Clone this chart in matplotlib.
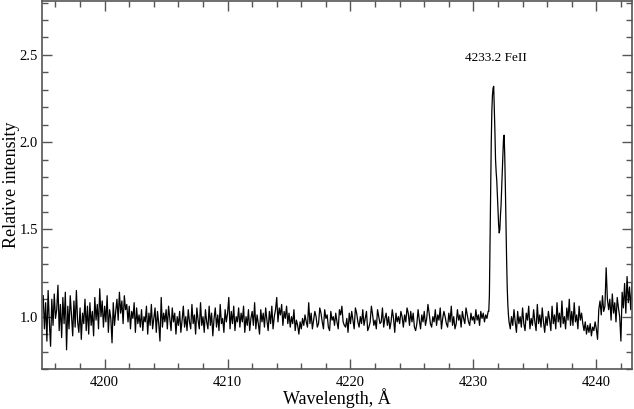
import matplotlib
matplotlib.use("Agg")
import matplotlib.pyplot as plt
from matplotlib.ticker import MultipleLocator
import numpy as np

# continuum blue of the line, 4195.0 .. 4231.2 A, step 0.1 A
flux_blue = [
    1.12, 0.93, 1.08, 0.86, 1.15, 0.97, 0.83, 1.10, 0.95, 1.13,  # 4195
    0.99, 1.04, 1.18, 0.92, 1.07, 0.88, 1.11, 0.96, 1.14, 0.81,  # 4196
    1.06, 0.93, 1.12, 1.01, 0.89, 1.09, 0.94, 1.15, 0.97, 0.91,  # 4197
    1.05, 0.87, 1.02, 0.96, 1.10, 0.92, 1.06, 0.90, 1.08, 0.95,  # 4198
    1.03, 0.89, 1.11, 0.98, 1.07, 0.93, 1.16, 1.00, 1.09, 0.94,  # 4199
    1.06, 0.97, 1.12, 0.91, 1.04, 0.99, 0.85, 1.08, 0.95, 1.03,  # 4200
    1.10, 0.98, 1.14, 1.02, 1.09, 0.96, 1.12, 1.04, 1.07, 0.97,  # 4201
    1.06, 0.93, 1.03, 0.99, 1.08, 0.91, 1.05, 0.96, 1.01, 0.94,  # 4202
    1.04, 0.92, 1.00, 0.97, 1.06, 0.90, 1.02, 0.95, 1.07, 0.93,  # 4203
    0.99, 1.05, 0.91, 1.03, 0.96, 0.86, 1.11, 0.94, 1.02, 0.97,  # 4204
    1.04, 0.93, 1.06, 0.99, 0.92, 1.05, 0.97, 1.02, 0.90, 1.00,  # 4205
    0.95, 1.03, 0.91, 0.98, 1.06, 0.94, 1.00, 0.92, 1.04, 0.97,  # 4206
    0.93, 1.07, 0.96, 1.01, 0.90, 1.05, 0.98, 0.93, 1.08, 0.95,  # 4207
    1.00, 0.91, 1.04, 0.97, 0.93, 1.06, 0.95, 1.02, 0.89, 0.99,  # 4208
    1.05, 0.94, 1.01, 0.92, 1.07, 0.96, 0.99, 0.91, 1.04, 0.97,  # 4209
    1.02, 1.11, 0.93, 1.03, 0.96, 1.06, 0.92, 1.00, 0.97, 1.05,  # 4210
    0.94, 1.02, 0.97, 1.06, 0.91, 1.00, 0.95, 1.04, 0.92, 0.99,  # 4211
    1.03, 0.95, 1.08, 0.93, 1.01, 0.96, 0.90, 1.04, 0.97, 1.02,  # 4212
    0.94, 1.05, 0.98, 0.92, 1.03, 0.96, 1.06, 0.93, 1.00, 1.04,  # 4213
    1.11, 0.97, 1.05, 1.01, 1.07, 0.95, 1.03, 0.99, 1.06, 0.96,  # 4214
    1.02, 0.94, 1.00, 0.96, 1.04, 0.92, 0.98, 0.95, 0.90, 0.97,  # 4215
    0.93, 0.99, 0.95, 1.01, 0.97, 0.94, 1.08, 0.96, 1.02, 0.93,  # 4216
    0.98, 1.03, 1.00, 0.94, 0.96, 1.05, 1.02, 0.97, 0.93, 1.04,  # 4217
    0.99, 1.01, 0.94, 0.92, 1.03, 0.98, 1.00, 0.95, 1.02, 0.97,  # 4218
    0.93, 1.04, 1.01, 1.06, 0.97, 0.95, 0.94, 0.99, 0.91, 1.02,  # 4219
    0.96, 1.03, 0.98, 0.93, 1.05, 1.02, 0.97, 0.94, 1.00, 0.96,  # 4220
    1.04, 0.95, 0.99, 1.03, 0.92, 0.94, 0.97, 1.06, 1.01, 0.95,  # 4221
    0.98, 0.93, 1.04, 1.00, 0.96, 0.97, 1.05, 0.94, 0.99, 1.02,  # 4222
    0.95, 1.00, 0.93, 0.97, 1.04, 0.99, 0.91, 1.02, 0.97, 1.00,  # 4223
    0.96, 1.03, 1.00, 0.94, 1.01, 0.97, 1.05, 1.02, 0.95, 1.03,  # 4224
    0.97, 1.02, 0.94, 0.92, 0.96, 1.04, 0.98, 0.93, 1.01, 0.97,  # 4225
    1.03, 0.95, 0.99, 1.07, 1.02, 0.96, 0.94, 1.00, 0.97, 1.04,  # 4226
    0.95, 1.01, 0.98, 1.05, 0.93, 0.99, 1.03, 1.00, 0.96, 0.94,  # 4227
    1.02, 0.97, 1.06, 0.95, 1.00, 0.93, 0.96, 1.04, 0.98, 1.01,  # 4228
    0.94, 1.03, 0.99, 0.96, 1.05, 1.01, 0.97, 0.95, 1.02, 0.98,  # 4229
    1.00, 0.96, 1.04, 0.98, 1.01, 0.95, 1.03, 0.99, 1.02, 0.97,  # 4230
    1.01, 0.99, 1.03,                                            # 4231.0-4231.2
]

# FeII emission line core, step 0.05 A
wl_line = [4231.25, 4231.30, 4231.35, 4231.40, 4231.45, 4231.50, 4231.55,
           4231.60, 4231.65, 4231.70, 4231.75, 4231.80, 4231.85, 4231.90,
           4231.95, 4232.00, 4232.05, 4232.10, 4232.15, 4232.20, 4232.25,
           4232.30, 4232.35, 4232.40, 4232.45, 4232.50, 4232.55, 4232.60,
           4232.65, 4232.70, 4232.75, 4232.80, 4232.85]
flux_line = [1.03, 1.12, 1.42, 1.72, 1.99, 2.18, 2.27,
             2.31, 2.32, 2.20, 2.06, 1.90, 1.83, 1.78,
             1.70, 1.62, 1.53, 1.48, 1.50, 1.58, 1.64,
             1.74, 1.85, 1.93, 2.02, 2.04, 1.92, 1.74,
             1.52, 1.33, 1.17, 1.07, 1.01]

# continuum red of the line, 4232.9 .. 4242.9 A, step 0.1 A
flux_red = [
    0.97,                                                        # 4232.9
    0.93, 1.00, 0.95, 1.04, 0.97, 0.91, 1.03, 0.96, 1.00, 0.94,  # 4233
    1.05, 0.96, 0.92, 1.02, 0.98, 1.06, 0.93, 0.99, 0.95, 1.04,  # 4234
    0.97, 0.92, 1.07, 0.96, 1.01, 0.94, 1.05, 0.97, 0.91, 1.00,  # 4235
    0.95, 1.03, 0.98, 0.92, 1.06, 0.96, 1.01, 0.93, 1.08, 0.97,  # 4236
    1.02, 0.94, 1.09, 0.96, 1.00, 0.93, 1.05, 0.98, 1.10, 0.95,  # 4237
    1.03, 0.95, 1.08, 0.97, 1.01, 0.93, 1.06, 0.98, 1.02, 0.96,  # 4238
    0.92, 0.97, 0.90, 0.95, 0.91, 0.96, 0.89, 0.94, 0.92, 0.97,  # 4239
    0.93, 0.87, 1.04, 1.09, 1.01, 1.12, 1.03, 1.06, 1.28, 1.10,  # 4240
    1.04, 1.10, 0.98, 1.13, 1.02, 1.08, 0.97, 1.11, 1.05, 1.00,  # 4241
    0.86, 1.14, 1.05, 1.19, 1.02, 1.23, 1.08, 1.17, 1.04, 1.19,  # 4242
]

wl_blue = 4195.0 + 0.1 * np.arange(len(flux_blue))
wl_red = 4232.9 + 0.1 * np.arange(len(flux_red))
wl = np.concatenate([wl_blue, wl_line, wl_red])
flux = np.concatenate([flux_blue, flux_line, flux_red])

plt.rcParams['font.family'] = ['Liberation Serif', 'DejaVu Serif']
frame = '#555555'

fig = plt.figure(figsize=(6.34, 4.09), dpi=100)
ax = fig.add_axes([0.0662, 0.0978, 0.9306, 0.9002])
ax.plot(wl, flux, color='black', lw=0.9)

ax.set_xlim(4194.9, 4242.9)
ax.set_ylim(0.70, 2.81)
ax.xaxis.set_major_locator(MultipleLocator(10))
ax.xaxis.set_minor_locator(MultipleLocator(2))
ax.yaxis.set_major_locator(MultipleLocator(0.5))
ax.yaxis.set_minor_locator(MultipleLocator(0.1))
ax.yaxis.set_major_formatter(plt.FormatStrFormatter('%.1f'))
ax.tick_params(which='both', direction='in', top=True, right=True,
               color=frame, labelsize=10.5, width=1.0)
ax.tick_params(which='major', length=7)
ax.tick_params(axis='x', which='major', pad=5)
ax.tick_params(axis='y', which='major', pad=3)
ax.tick_params(which='minor', length=4)
for s in ax.spines.values():
    s.set_color(frame)
    s.set_linewidth(1.2)

ax.set_xlabel('Wavelength, Å', fontsize=13, va='center')
ax.set_ylabel('Relative intensity', fontsize=13, va='center')
ax.xaxis.set_label_coords(0.5, -0.079)
ax.yaxis.set_label_coords(-0.051, 0.5)
ax.text(4231.85, 2.48, '4233.2 FeII', fontsize=9.5, ha='center', va='center')

fig.savefig('out.png', dpi=100)
